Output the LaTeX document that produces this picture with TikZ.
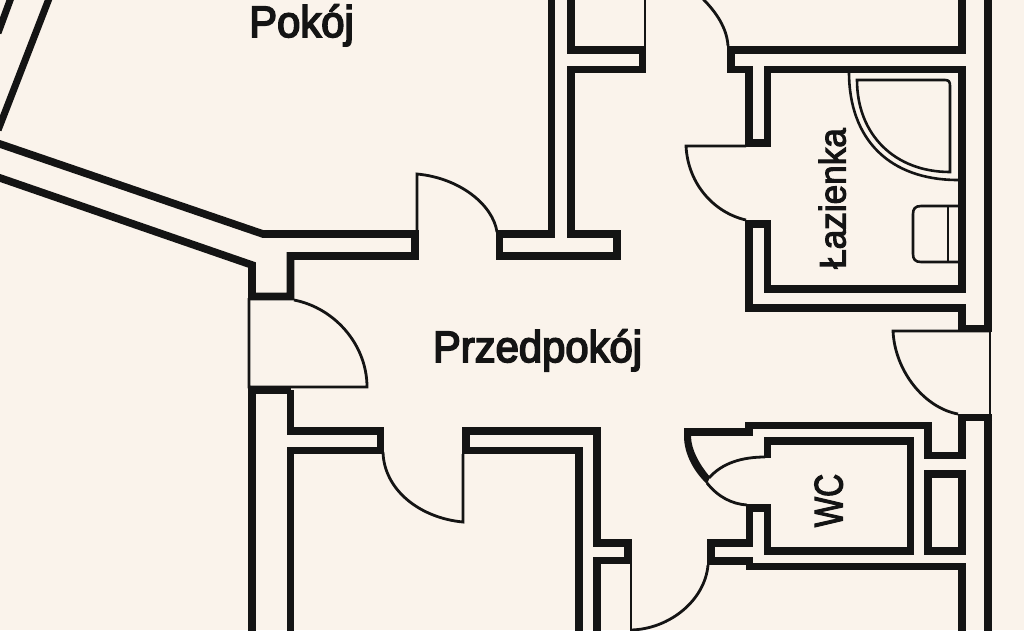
\documentclass[tikz,border=0pt]{standalone}
\usepackage{fontspec}
\setmainfont{Liberation Sans}
\newfontfamily\medfont[FakeBold=4]{Liberation Sans}
\newfontfamily\sidefont[FakeBold=3]{Liberation Sans}
\definecolor{paper}{HTML}{FAF3EB}
\definecolor{ink}{HTML}{141414}
\tikzset{
  wall/.style={draw=ink,line width=7.6pt,miter limit=20},
  thinline/.style={draw=ink,line width=2.8pt},
  fixture/.style={draw=ink,line width=2.6pt},
  roomlabel/.style={text=ink,inner sep=0pt,anchor=base,font=\medfont\fontsize{44}{44}\selectfont,xscale=.95},
  sidelabel/.style={text=ink,inner sep=0pt,anchor=base,rotate=90,font=\sidefont\selectfont}
}
\begin{document}
\begin{tikzpicture}[x=1pt,y=-1pt]
\useasboundingbox (0,0) rectangle (1024,630);
\clip (0,0) rectangle (1024,630);
\fill[paper] (0,0) rectangle (1024,630);
% top-left angled walls
\draw[wall,line width=7pt] (50.4,-5)--(-1.9,130);
\draw[wall,line width=7pt] (12,-5)--(-2,33);
% outer right wall
\draw[wall,line width=8pt] (987.5,-5)--(987.5,332);
\draw[wall,line width=8pt] (987.5,415)--(987.5,635);
\draw[thinline] (990,328)--(990,417);
% bathroom block
\draw[wall] (962,-5)--(962,50)--(731,50)--(731,69.5)--(749,69.5)--(749,143)--(767.5,143)--(767.5,69.5)--(962,69.5)--(962,289)--(767.5,289)--(767.5,224)--(749,224)--(749,308)--(962,308)--(962,328.5)--(992,328.5);
% WC surround
\draw[wall] (992,417.5)--(962,417.5)--(962,455.5)--(928,455.5)--(928,425.5)--(749,425.5)--(749,432)--(684,432);
\draw[wall] (767.5,458)--(767.5,441)--(910.5,441)--(910.5,551)--(767.5,551)--(767.5,508)--(749.5,508)--(749.5,543)--(711,543)--(711,561)--(749.5,561)--(749.5,566.5)--(962,566.5)--(962,635);
\draw[wall] (928,474)rectangle(962,551);
% lower middle walls
\draw[wall] (579,635)--(579,450.5)--(466,450.5)--(466,431)--(597,431)--(597,543)--(628,543)--(628,560.5)--(597,560.5)--(597,635);
\draw[wall] (290.5,390)--(290.5,431)--(380.5,431)--(380.5,450.5)--(290.5,450.5)--(290.5,635);
\draw[wall] (252,635)--(252,390)--(290.5,390);
% upper left walls
\draw[wall] (-10,140.6)--(263,234)--(415,234)--(415,256)--(290.5,256)--(290.5,296.5)--(252,296.5)--(252,265)--(-10,174.5);
% central wall stubs
\draw[wall] (551.5,-5)--(551.5,234)--(499.5,234)--(499.5,256)--(617,256)--(617,234)--(571,234)--(571,69.5)--(642.5,69.5)--(642.5,50)--(571,50)--(571,-5);
% doors
\draw[thinline] (645,-5)--(645,50);
\draw[thinline] (703,-1) .. controls (716,12) and (727,28) .. (728,46);
\draw[thinline] (746,146)--(686,146) .. controls (688,185) and (715,213) .. (746,220);
\draw[thinline] (990,331)--(893,331) .. controls (895,372) and (925,408) .. (958,414);
\fill[ink] (684,436) .. controls (684,455) and (695,473) .. (707,484) -- (710,477) .. controls (700,465) and (691,450) .. (691,436) -- cycle;
\draw[thinline] (707,483) .. controls (718,497) and (732,504) .. (747,505);
\draw[thinline] (709,478) .. controls (722,463) and (742,457) .. (765,457);
\draw[thinline] (708,565) .. controls (705,600) and (670,629) .. (631,630);
\draw[thinline] (631,560)--(631,635);
\draw[thinline] (463,454)--(463,522) .. controls (420,518) and (384,490) .. (383,452);
\draw[thinline] (249,298)--(249,387)--(367,387) .. controls (367,345) and (335,308) .. (294,300);
\draw[thinline] (417,232)--(417,174) .. controls (460,178) and (493,205) .. (497,232);
% shower
\draw[fixture] (849,72) .. controls (849,140) and (890,180) .. (958,180);
\draw[fixture] (857,80)--(945,80) .. controls (949,80) and (950,82) .. (950,86)--(950,172) .. controls (895,172) and (857,135) .. (857,80) -- cycle;
% toilet
\draw[fixture] (958,206)--(921,206) .. controls (915,206) and (913,209) .. (913,214)--(913,254) .. controls (913,259) and (915,262) .. (921,262)--(958,262);
\draw[fixture] (948,206)--(948,262);
% labels
\node[roomlabel] (pokoj) at (301.5,37) {Pokój};
\node[roomlabel] (przedpokoj) at (537.5,362) {Przedpokój};
\node[sidelabel,xscale=.95,font=\sidefont\fontsize{37}{37}\selectfont] (lazienka) at (845.5,198.5) {Łazienka};
\node[sidelabel,xscale=.8,font=\sidefont\fontsize{40}{40}\selectfont] (wc) at (842.5,500.5) {WC};
\end{tikzpicture}
\end{document}
